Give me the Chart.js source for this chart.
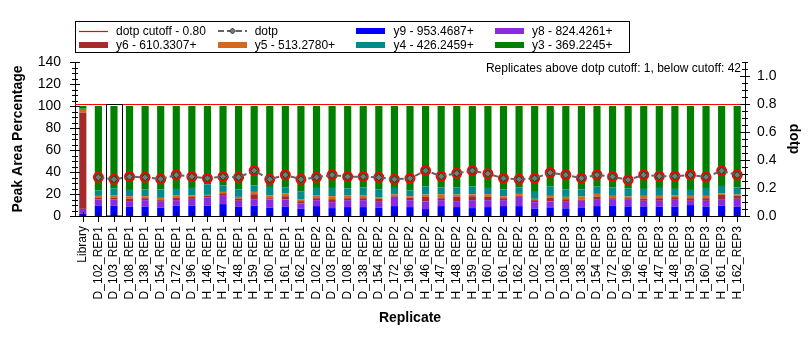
<!DOCTYPE html>
<html>
<head>
<meta charset="utf-8">
<script src="https://cdn.jsdelivr.net/npm/chart.js@4.4.1/dist/chart.umd.min.js"></script>
<style>
  body { margin: 0; background: #fff; font-family: "Liberation Sans", Arial, sans-serif; }
  #wrap { position: relative; width: 812px; height: 339px; }
  #legend { position: absolute; left: 75px; top: 21px; width: 555px; height: 32px;
            border: 1px solid #000; box-sizing: border-box; font-size: 12px; color: #000; }
  .item { position: absolute; height: 14px; line-height: 14px; white-space: nowrap; }
  .item svg { position: absolute; left: 0; top: 0; }
  .txt { position: absolute; left: 37px; top: 0; }
</style>
</head>
<body>
<div id="wrap">
  <canvas id="myChart"></canvas>
  <div id="legend"></div>
</div>
<script>
const labels = [
  'Library',
  'D_102_REP1', 'D_103_REP1', 'D_108_REP1', 'D_138_REP1', 'D_154_REP1', 'D_172_REP1', 'D_196_REP1',
  'H_146_REP1', 'H_147_REP1', 'H_148_REP1', 'H_159_REP1', 'H_160_REP1', 'H_161_REP1', 'H_162_REP1',
  'D_102_REP2', 'D_103_REP2', 'D_108_REP2', 'D_138_REP2', 'D_154_REP2', 'D_172_REP2', 'D_196_REP2',
  'H_146_REP2', 'H_147_REP2', 'H_148_REP2', 'H_159_REP2', 'H_160_REP2', 'H_161_REP2', 'H_162_REP2',
  'D_102_REP3', 'D_103_REP3', 'D_108_REP3', 'D_138_REP3', 'D_154_REP3', 'D_172_REP3', 'D_196_REP3',
  'H_146_REP3', 'H_147_REP3', 'H_148_REP3', 'H_159_REP3', 'H_160_REP3', 'H_161_REP3', 'H_162_REP3'
];

// peak area percentages per ion, stacked bottom to top
const y9 = [2.0, 9.3, 9.3, 8.4, 8.4, 7.5, 9.3, 9.3, 9.3, 10.8, 8.4, 9.3, 7.5,
  8.4, 6.6, 9.0, 7.2, 8.1, 8.1, 7.5, 9.0, 8.1, 6.3, 9.0, 8.1, 7.2, 8.1, 9.0, 9.0, 6.6,
  7.8, 6.9, 7.8, 9.0, 9.6, 8.7, 8.7, 8.4, 8.4, 9.9, 8.4, 9.3, 8.4];
const y8 = [4.5, 5.7, 5.7, 5.1, 6.0, 5.4, 5.1, 6.3, 7.5, 7.5, 5.4, 6.0, 7.5,
  6.6, 4.8, 5.4, 5.4, 6.3, 6.3, 5.4, 8.4, 6.3, 6.9, 5.4, 5.4, 7.2, 6.3, 5.4, 8.4, 6.0,
  5.4, 6.0, 6.0, 5.7, 5.1, 6.0, 5.1, 5.4, 6.3, 3.9, 5.4, 5.4, 7.2];
const y6 = [87.5, 1.8, 1.8, 2.1, 1.8, 1.5, 2.4, 1.8, 1.8, 2.4, 2.1, 4.5, 1.2,
  3.0, 2.1, 1.8, 2.7, 1.8, 1.8, 2.7, 0.6, 2.4, 4.2, 1.8, 4.2, 3.6, 3.0, 1.8, 1.2, 1.8,
  3.6, 2.4, 0.9, 3.0, 1.5, 1.5, 2.1, 2.4, 2.4, 2.4, 2.4, 4.5, 2.7];
const y5 = [2.5, 1.5, 2.1, 2.4, 1.8, 2.1, 1.8, 1.5, 0.6, 1.2, 1.5, 2.1, 2.4,
  2.4, 1.8, 2.7, 2.7, 2.4, 2.7, 1.5, 1.8, 1.2, 2.1, 3.6, 1.8, 1.8, 2.4, 1.8, 1.5, 1.2,
  1.5, 2.1, 3.0, 2.4, 2.1, 1.5, 2.4, 2.1, 1.8, 2.1, 2.1, 1.5, 1.2];
const y4 = [1.0, 5.1, 6.3, 5.7, 6.0, 7.5, 6.0, 6.6, 9.6, 6.0, 6.9, 6.0, 7.8,
  5.7, 7.2, 6.6, 7.5, 6.6, 7.2, 7.2, 5.7, 5.4, 7.5, 6.3, 6.3, 7.2, 5.7, 6.3, 6.0, 6.3,
  8.4, 6.9, 6.6, 6.6, 7.5, 7.2, 6.3, 7.2, 5.7, 5.4, 7.2, 6.6, 6.6];
const y3 = [2.5, 76.6, 74.8, 76.3, 76.0, 76.0, 75.4, 74.5, 71.2, 72.1, 75.7, 72.1, 73.6,
  73.9, 77.5, 74.5, 74.5, 74.8, 73.9, 75.7, 74.5, 76.6, 73.0, 73.9, 74.2, 73.0, 74.5, 75.7, 73.9, 78.1,
  73.3, 75.7, 75.7, 73.3, 74.2, 75.1, 75.4, 74.5, 75.4, 76.3, 74.5, 72.7, 73.9];

const dotp = [null, 0.276, 0.262, 0.281, 0.276, 0.264, 0.293, 0.281, 0.269, 0.281, 0.276, 0.324, 0.262,
  0.293, 0.262, 0.276, 0.293, 0.281, 0.281, 0.276, 0.262, 0.269, 0.324, 0.284, 0.305, 0.324, 0.302, 0.269, 0.262, 0.269,
  0.309, 0.293, 0.270, 0.293, 0.281, 0.258, 0.293, 0.284, 0.284, 0.293, 0.278, 0.323, 0.293];

const dotpCutoff = 0.80;
const selectedIndex = 2;
const leftTicks = { min: 0, max: 140, step: 20, minor: 5 };
const rightTicks = { min: 0, max: 1.1, step: 0.2, minor: 0.05 };
const summaryText = 'Replicates above dotp cutoff: 1, below cutoff: 42';

const ions = [
  { label: 'y9 - 953.4687+', data: y9, color: '#0000FF' },
  { label: 'y8 - 824.4261+', data: y8, color: '#8A2BE2' },
  { label: 'y6 - 610.3307+', data: y6, color: '#A52A2A' },
  { label: 'y5 - 513.2780+', data: y5, color: '#D2691E' },
  { label: 'y4 - 426.2459+', data: y4, color: '#008B8B' },
  { label: 'y3 - 369.2245+', data: y3, color: '#008000' }
];

Chart.defaults.font.family = '"Liberation Sans", Arial, sans-serif';
Chart.defaults.color = '#000';

// cutoff line, axis ticks crossing the axis lines (with minor ticks), selection box, summary
const axisTicks = {
  id: 'axisTicks',
  beforeDatasetsDraw(chart) {
    const { ctx, chartArea: a, scales } = chart;
    const p = Math.round(scales.y1.getPixelForValue(dotpCutoff)) + 0.5;
    ctx.save();
    ctx.strokeStyle = '#FF0000';
    ctx.lineWidth = 1;
    ctx.beginPath();
    ctx.moveTo(a.left, p);
    ctx.lineTo(a.right, p);
    ctx.stroke();
    ctx.restore();
  },
  afterDraw(chart) {
    const { ctx, chartArea: a, scales } = chart;
    ctx.save();
    ctx.strokeStyle = '#000';
    ctx.lineWidth = 1;
    ctx.beginPath();
    for (let v = leftTicks.min; v <= leftTicks.max + 1e-6; v += leftTicks.minor) {
      const p = Math.round(scales.y.getPixelForValue(v)) + 0.5;
      const major = Math.abs(v / leftTicks.step - Math.round(v / leftTicks.step)) < 1e-6;
      ctx.moveTo(a.left - (major ? 5 : 3), p);
      ctx.lineTo(a.left + (major ? 5 : 3), p);
    }
    for (let v = rightTicks.min; v <= rightTicks.max + 1e-6; v += rightTicks.minor) {
      const p = Math.round(scales.y1.getPixelForValue(v)) + 0.5;
      const major = Math.abs(v / rightTicks.step - Math.round(v / rightTicks.step)) < 1e-6;
      ctx.moveTo(a.right - (major ? 5 : 3), p);
      ctx.lineTo(a.right + (major ? 5 : 3), p);
    }
    labels.forEach((l, i) => {
      const x = Math.round(scales.x.getPixelForValue(i)) + 0.5;
      ctx.moveTo(x, a.bottom - 4);
      ctx.lineTo(x, a.bottom + 6);
    });
    ctx.stroke();

    // selected replicate
    const cx = scales.x.getPixelForValue(selectedIndex);
    const w = (a.right - a.left) / labels.length;
    const top = Math.round(scales.y.getPixelForValue(100)) - 1.5;
    ctx.strokeRect(Math.round(cx - w / 2) + 0.5, top, Math.round(w), a.bottom - top);

    ctx.font = '12px "Liberation Sans", Arial, sans-serif';
    ctx.fillStyle = '#000';
    ctx.textAlign = 'right';
    ctx.textBaseline = 'middle';
    ctx.fillText(summaryText, a.right - 4, a.top + 7);
    ctx.restore();
  }
};

const datasets = ions.map(s => ({
  type: 'bar',
  label: s.label,
  data: s.data,
  backgroundColor: s.color,
  borderWidth: 0,
  yAxisID: 'y',
  stack: 'ions',
  order: 10,
  categoryPercentage: 1,
  barPercentage: 0.46
}));

datasets.push({
  type: 'line',
  label: 'dotp',
  data: dotp,
  yAxisID: 'y1',
  borderColor: '#646464',
  borderWidth: 2,
  borderDash: [6, 3],
  pointStyle: 'rectRot',
  pointRadius: 3.5,
  pointBackgroundColor: '#7a7a7a',
  pointBorderColor: '#333',
  pointBorderWidth: 1,
  order: 1
});
datasets.push({
  type: 'line',
  label: 'below cutoff',
  data: dotp,
  yAxisID: 'y1',
  showLine: false,
  pointStyle: 'circle',
  pointRadius: 4.5,
  pointBackgroundColor: 'rgba(0,0,0,0)',
  pointBorderColor: '#FF0000',
  pointBorderWidth: 2,
  order: 2
});

const config = {
  data: { labels: labels, datasets: datasets },
  options: {
    responsive: true,
    maintainAspectRatio: false,
    animation: false,
    layout: { padding: { top: 62, left: 0, right: 0, bottom: 0 } },
    plugins: { legend: { display: false }, tooltip: { enabled: false } },
    scales: {
      x: {
        stacked: true,
        offset: true,
        grid: { display: false, drawTicks: false },
        border: { display: true, color: '#000' },
        ticks: { autoSkip: false, maxRotation: 90, minRotation: 90, padding: 10,
                 font: { size: 12 }, color: '#000' },
        title: { display: true, text: 'Replicate', font: { size: 14, weight: 'bold' },
                 padding: { top: 0, bottom: 12 } },
        afterFit: s => { s.height = 123; }
      },
      y: {
        position: 'left',
        stacked: true,
        min: leftTicks.min,
        max: leftTicks.max,
        grid: { display: false, drawTicks: false },
        border: { display: true, color: '#000' },
        ticks: { stepSize: leftTicks.step, padding: 14, font: { size: 14 } },
        title: { display: true, text: 'Peak Area Percentage', font: { size: 14, weight: 'bold' },
                 padding: { top: 10, bottom: 0 } },
        afterFit: s => { s.width = 75; }
      },
      y1: {
        position: 'right',
        min: rightTicks.min,
        max: rightTicks.max,
        grid: { display: false, drawTicks: false },
        border: { display: true, color: '#000' },
        ticks: { stepSize: rightTicks.step, includeBounds: false, padding: 12, font: { size: 14 },
                 callback: v => v.toFixed(1) },
        title: { display: true, text: 'dotp', font: { size: 14, weight: 'bold' },
                 padding: { top: 10, bottom: 0 } },
        afterFit: s => { s.width = 67; }
      }
    }
  },
  plugins: [axisTicks]
};

const myChart = new Chart(document.getElementById('myChart'), config);

// legend laid out as a 4 x 2 grid like the original
const legendItems = [
  { label: 'dotp cutoff - 0.80', kind: 'cutoff' },
  { label: 'dotp', kind: 'dotp' },
  ions[0], ions[1], ions[2], ions[3], ions[4], ions[5]
];
const legend = document.getElementById('legend');
legendItems.forEach((it, i) => {
  const col = i % 4, row = Math.floor(i / 4);
  const div = document.createElement('div');
  div.className = 'item';
  div.style.left = (3 + col * 138.7) + 'px';
  div.style.top = (2 + row * 13.5) + 'px';
  let sample;
  if (it.kind === 'cutoff') {
    sample = '<svg width="29" height="14"><line x1="0" y1="7.5" x2="29" y2="7.5" stroke="#FF0000" stroke-width="1.2"/></svg>';
  } else if (it.kind === 'dotp') {
    sample = '<svg width="29" height="14"><line x1="0" y1="7" x2="29" y2="7" stroke="#646464" stroke-width="2" stroke-dasharray="6 3"/>' +
      '<path d="M14.5 4 L17.5 7 L14.5 10 L11.5 7 Z" fill="#7a7a7a" stroke="#333" stroke-width="1"/></svg>';
  } else {
    sample = '<svg width="29" height="14"><rect x="0" y="4" width="29" height="6" fill="' + it.color + '"/></svg>';
  }
  div.innerHTML = sample + '<span class="txt">' + it.label + '</span>';
  legend.appendChild(div);
});
</script>
</body>
</html>
